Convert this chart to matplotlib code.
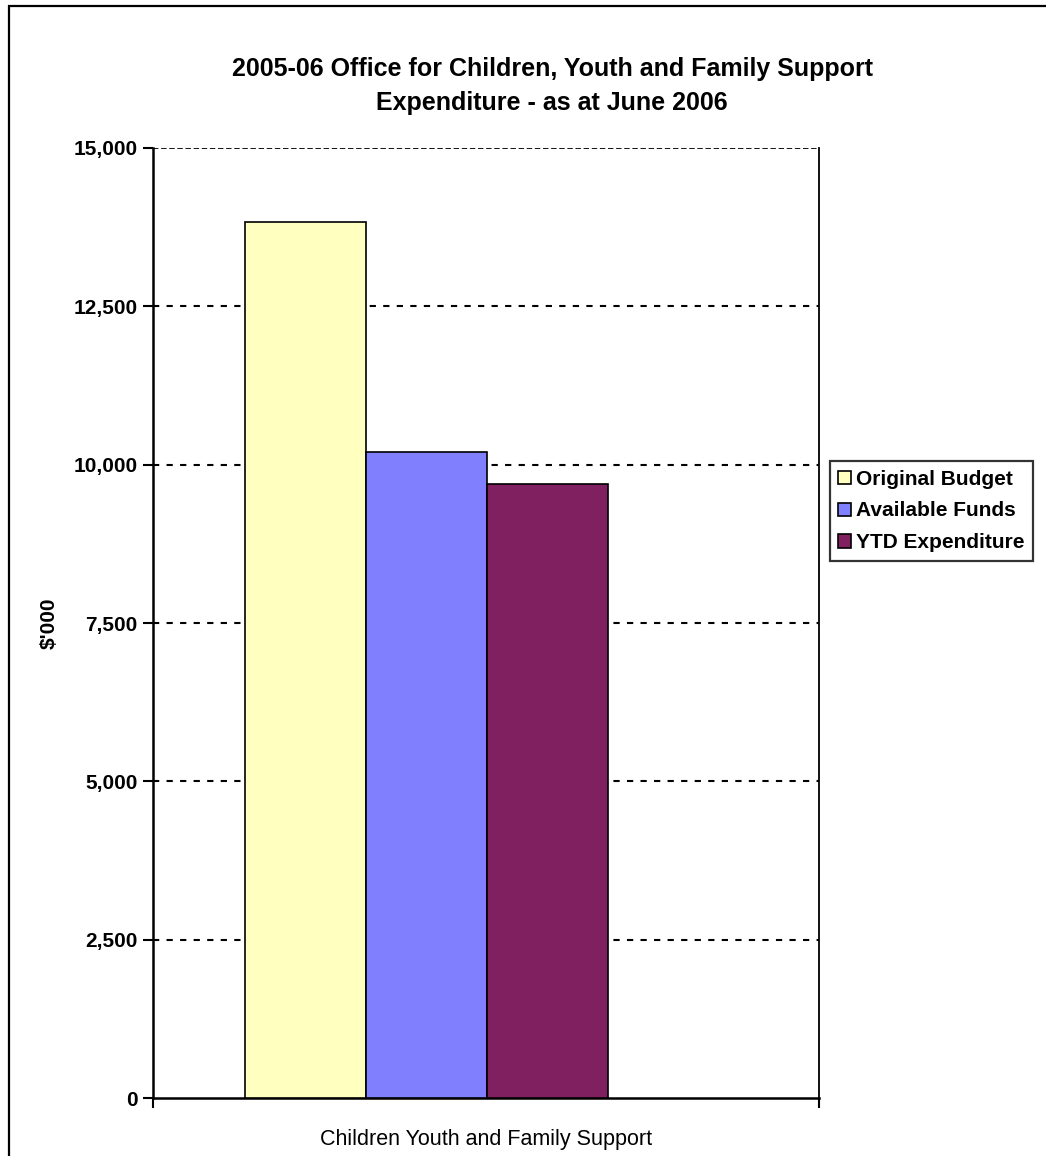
import matplotlib
matplotlib.use("Agg")
import matplotlib.pyplot as plt
from matplotlib.patches import Rectangle
from matplotlib.ticker import FuncFormatter

plt.rcParams['font.family'] = ['Liberation Sans', 'DejaVu Sans']

title = "2005-06 Office for Children, Youth and Family Support\nExpenditure - as at June 2006"
category = "Children Youth and Family Support"
series_names = ["Original Budget", "Available Funds", "YTD Expenditure"]
series_values = [13830, 10200, 9700]
series_colors = ["#FFFFC0", "#8080FF", "#802060"]
y_ticks = [0, 2500, 5000, 7500, 10000, 12500, 15000]
y_label = "$'000"

W, H = 1046, 1156
fig = plt.figure(figsize=(W / 100, H / 100), dpi=100)

# outer frame (extends beyond right/bottom edges)
fig.patches.append(Rectangle((9 / W, -0.05), 1.2, 1 - 6 / H + 0.05, transform=fig.transFigure,
                             fill=False, edgecolor='black', linewidth=1.6, zorder=0))
fig.text(10 / W, 1 + 12 / H, "Fig", family='Liberation Serif', fontweight='bold',
         fontsize=15, va='baseline', ha='left')

ax = fig.add_axes([153 / W, (H - 1098) / H, (819 - 153) / W, (1098 - 148) / H])

bw = 0.1818
offset = -0.0893
positions = [offset - bw, offset, offset + bw]
for p, v, c, n in zip(positions, series_values, series_colors, series_names):
    ax.bar(p, v, width=bw, color=c, edgecolor='black', linewidth=1.2, label=n, zorder=3)

ax.set_xlim(-0.5, 0.5)
ax.set_ylim(0, 15000)
ax.set_yticks(y_ticks)
ax.yaxis.set_major_formatter(FuncFormatter(lambda v, p: f"{int(v):,}"))
for lbl in ax.get_yticklabels():
    lbl.set_fontweight('bold')
ax.tick_params(axis='y', direction='out', length=7, width=1.5, labelsize=15, pad=4)
ax.set_xticks([-0.5, 0.5])
ax.set_xticklabels(["", ""])
ax.tick_params(axis='x', direction='out', length=7, width=1.5)

for y in y_ticks[1:-1]:
    ax.axhline(y, color='black', linewidth=1.5, dashes=(3, 3.5), zorder=1)
ax.axhline(15000, color='black', linewidth=1.3, dashes=(3, 1.5), zorder=1)

ax.spines['top'].set_visible(False)
ax.spines['left'].set_linewidth(1.8)
ax.spines['bottom'].set_linewidth(1.8)
ax.spines['right'].set_linewidth(1.3)

ax.set_xlabel(category, fontsize=15.5, labelpad=12)
ax.set_ylabel(y_label, fontsize=15, fontweight='bold', labelpad=11)

fig.text(552 / W, 1 - 86 / H, title, ha='center', va='center', fontsize=18,
         fontweight='bold', linespacing=1.55)

leg = ax.legend(loc='center left', bbox_to_anchor=(830 / W, 1 - 511 / H),
                bbox_transform=fig.transFigure, frameon=True, fancybox=False,
                prop={'weight': 'bold', 'size': 15}, handlelength=0.6,
                handleheight=0.6, handletextpad=0.25, borderpad=0.4,
                labelspacing=0.62, borderaxespad=0)
leg.get_frame().set_edgecolor('black')
leg.get_frame().set_linewidth(1.6)

fig.savefig("out.png", dpi=100)
